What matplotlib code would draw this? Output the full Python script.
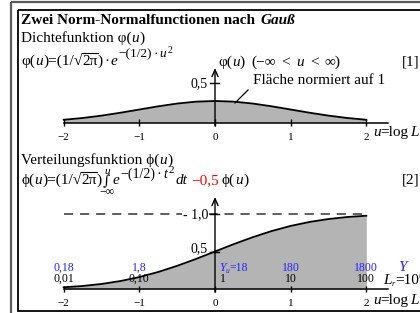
import matplotlib
matplotlib.use("Agg")
import matplotlib.pyplot as plt
from matplotlib.patches import Rectangle
from matplotlib.transforms import blended_transform_factory as blend

plt.rcParams['font.family'] = ['Liberation Serif', 'DejaVu Serif', 'DejaVu Sans']

# ---------------- data ----------------
u_grid = [-2.0, -1.75, -1.5, -1.25, -1.0, -0.75, -0.5, -0.25, 0.0,
          0.25, 0.5, 0.75, 1.0, 1.25, 1.5, 1.75, 2.0]
density = [0.054, 0.086, 0.130, 0.183, 0.242, 0.301, 0.352, 0.387, 0.399,
           0.387, 0.352, 0.301, 0.242, 0.183, 0.130, 0.086, 0.054]
cumulative = [0.023, 0.040, 0.067, 0.106, 0.159, 0.227, 0.309, 0.401, 0.500,
              0.599, 0.691, 0.773, 0.841, 0.894, 0.933, 0.960, 0.977]
u_ticks = [-2, -1, 0, 1, 2]
u_tick_labels = ['\u22122', '\u22121', '0', '1', '2']
L_labels = ['0,01', '0,10', '1', '10', '100']
Y_labels = ['0,18', '1,8', '18', '180', '1800']
upper_level = 1.0

# ---------------- layout ----------------
W, H = 420, 313
fig = plt.figure(figsize=(W / 100, H / 100), dpi=100)
X0, SX = 215.0, 75.67          # pixel of u=0, pixels per unit u
BASE1, S1 = 122.7, 54.4        # upper plot baseline pixel, px per unit
BASE2, S2 = 289.0, 75.0        # lower plot baseline pixel, px per unit
BLUE = '#2323ff'
GREY = '#b4b4b4'
FS = 11


def plot_axes(base, s):
    ax = fig.add_axes([0, 0, 1, 1])
    ax.set_xlim(-X0 / SX, (W - X0) / SX)
    ax.set_ylim(-(H - base) / s, base / s)
    ax.axis('off')
    ax.patch.set_alpha(0)
    return ax


ax1 = plot_axes(BASE1, S1)
ax2 = plot_axes(BASE2, S2)

ax_t = fig.add_axes([0, 0, 1, 1])
ax_t.set_xlim(0, W)
ax_t.set_ylim(H, 0)
ax_t.axis('off')
ax_t.patch.set_alpha(0)

# frame
ax_t.add_patch(Rectangle((10.5, 2), 440, 330, fill=False, ec='#5a5a5a', lw=1.6))
ax_t.add_patch(Rectangle((18, 9.5), 420, 301.5, fill=False, ec='black', lw=1.3))

# ---------------- upper plot ----------------
ax1.fill_between(u_grid, density, 0, color=GREY, lw=0)
ax1.plot(u_grid, density, color='black', lw=1.3)
ax1.plot([-2, (388 - X0) / SX], [0, 0], color='black', lw=1.1)
ax1.vlines(u_ticks, -3.3 / S1, 3.3 / S1, color='black', lw=1.0)
ax1.annotate('', xy=(0, (BASE1 - 68) / S1), xytext=(0, -3.3 / S1),
             arrowprops=dict(arrowstyle='->,head_length=0.5,head_width=0.22',
                             lw=1.0, color='black', shrinkA=0, shrinkB=0))
for u, lab in zip(u_ticks, u_tick_labels):
    ax_t.text(u, 140, lab, transform=blend(ax1.transData, ax_t.transData),
              ha='center', va='baseline', fontsize=8)

# ---------------- lower plot ----------------
ax2.fill_between(u_grid, cumulative, 0, color=GREY, lw=0)
ax2.plot(u_grid, cumulative, color='black', lw=1.3)
ax2.plot([-2, 2], [upper_level, upper_level], color='#333333', lw=1.1,
         dashes=(6, 4.5))
ax2.plot([-2, (388 - X0) / SX], [0, 0], color='black', lw=1.1)
ax2.vlines(u_ticks, -3.3 / S2, 3.3 / S2, color='black', lw=1.0)
ax2.annotate('', xy=(0, (BASE2 - 197) / S2), xytext=(0, -3.3 / S2),
             arrowprops=dict(arrowstyle='->,head_length=0.5,head_width=0.22',
                             lw=1.0, color='black', shrinkA=0, shrinkB=0))
tr2 = blend(ax2.transData, ax_t.transData)
for u, lab in zip(u_ticks, u_tick_labels):
    ax_t.text(u, 306, lab, transform=tr2, ha='center', va='baseline', fontsize=8)
for u, lab, ylab in zip(u_ticks, L_labels, Y_labels):
    if u == 0:
        continue
    ax_t.text(u, 282, lab, transform=tr2, ha='center', va='baseline', fontsize=8.5)
    ax_t.text(u, 271, ylab, transform=tr2, ha='center', va='baseline',
              fontsize=8.5, color=BLUE)

# ---------------- rich text helper ----------------
fig.canvas.draw()
R = fig.canvas.get_renderer()


def rich(x, y, pieces, size=FS):
    boxes = []
    for txt, kw in pieces:
        kw = dict(kw)
        dy = kw.pop('dy', 0)
        dx = kw.pop('dx', 0)
        kw.setdefault('fontsize', size)
        t = ax_t.text(x + dx, y + dy, txt, ha='left', va='baseline', **kw)
        bb = t.get_window_extent(renderer=R)
        boxes.append((x + dx, x + dx + bb.width))
        x += dx + bb.width
    return x, boxes


IT = {'style': 'italic'}

# title
rich(21, 24, [('Zwei Norm-Normalfunctionen nach ', {'weight': 'bold'}),
              ('Gau\u00df', {'weight': 'bold', 'style': 'italic', 'dx': 1.5})], size=11)

# upper heading + formula
rich(21, 42, [('Dichtefunktion \u03c6(', {}), ('u', IT), (')', {'dx': 0.5})])
xe, bx = rich(21, 65, [('\u03c6(', {}), ('u', IT), (')=(1/', {'dx': 0.5}),
                       ('\u221a', {}), ('2\u03c0', {}), (')', {}),
                       ('\u00b7', {'dx': 1.5}), ('e', dict(IT, dx=1.5)),
                       ('\u2212(1/2)', {'fontsize': 9.5, 'dy': -8, 'dx': 1}),
                       ('\u00b7', {'fontsize': 9.5, 'dy': -8, 'dx': 1.5}),
                       ('u', dict(IT, fontsize=9.5, dy=-8, dx=1.5)),
                       ('2', {'fontsize': 7, 'dy': -12, 'dx': 1.5})])
ax_t.plot([bx[4][0], bx[4][1]], [53.3, 53.3], color='black', lw=0.8)

rich(218, 66, [('\u03c6(', {}), ('u', IT), (')', {})])
rich(251, 66, [('(\u2212\u221e', {}), ('<', {'dx': 6}), ('u', dict(IT, dx=6)),
               ('<', {'dx': 6}), ('\u221e)', {'dx': 6})])
ax_t.text(402, 66, '[1]', ha='left', va='baseline', fontsize=FS)
ax_t.text(253, 84, 'Fl\u00e4che normiert auf 1', ha='left', va='baseline', fontsize=FS)
ax_t.plot([235, 248], [103, 90], color='black', lw=0.9)
ax_t.text(208, 87, '0,5', ha='right', va='baseline', fontsize=10)
ax_t.plot([210, 219], [83.3, 83.3], color='black', lw=1.0)
rich(373, 136, [('u', IT), ('=log', {}), ('L', dict(IT, dx=1.5))])

# lower heading + formula
rich(21, 164, [('Verteilungsfunktion \u03d5(', {}), ('u', IT), (')', {'dx': 0.5})])
xe, bx = rich(21, 184, [('\u03d5(', {}), ('u', IT), (')=(1/', {'dx': 0.5}),
                        ('\u221a', {}), ('2\u03c0', {}), (')', {})])
ax_t.plot([bx[4][0], bx[4][1]], [172.3, 172.3], color='black', lw=0.8)
ti = ax_t.text(xe + 1, 185.5, '\u222b', ha='left', va='baseline', fontsize=10,
               family='DejaVu Serif')
iw = ti.get_window_extent(renderer=R).width
ax_t.text(xe + 1 + iw / 2 + 1, 173.5, 'u', ha='center', va='baseline', fontsize=8,
          style='italic')
ax_t.text(xe + 1 + iw / 2, 195, '\u2212\u221e', ha='center', va='baseline', fontsize=8.5)
rich(xe + 2 + iw, 184, [('e', dict(IT, dx=1)),
                        ('\u2212(1/2)', {'fontsize': 10, 'dy': -6, 'dx': 1}),
                        ('\u00b7', {'fontsize': 10, 'dy': -6, 'dx': 2}),
                        ('t', dict(IT, fontsize=10, dy=-6, dx=2)),
                        ('2', {'fontsize': 8, 'dy': -11, 'dx': 1.5}),
                        ('dt', dict(IT, dx=1)),
                        ('\u22120,5', {'color': 'red', 'dx': 4}),
                        ('\u03d5(', {'dx': 3}), ('u', IT), (')', {'dx': 0.5})])
ax_t.text(402, 184, '[2]', ha='left', va='baseline', fontsize=FS)

ax_t.text(208, 218.5, '- 1,0', ha='right', va='baseline', fontsize=10,
          bbox=dict(fc='white', ec='none', pad=0.5))
ax_t.plot([210, 219], [214, 214], color='black', lw=1.0)
ax_t.text(208, 252, '0,5', ha='right', va='baseline', fontsize=10)
ax_t.plot([210, 219], [251.5, 251.5], color='black', lw=1.0)

rich(219, 271, [('Y', dict(IT, color=BLUE, fontsize=8.5)),
                ('u', dict(IT, color=BLUE, fontsize=5.5, dy=2)),
                ('=18', {'color': BLUE, 'fontsize': 8.5})])
ax_t.text(220, 282, '1', ha='left', va='baseline', fontsize=8.5)
ax_t.text(398, 271, 'Y', ha='left', va='baseline', fontsize=11, style='italic', color=BLUE)
rich(383, 284, [('L', IT), ('r', dict(IT, fontsize=6, dy=2)), ('=10', {}),
                ('u', dict(IT, fontsize=7, dy=-6))])
rich(373, 304, [('u', IT), ('=log', {}), ('L', dict(IT, dx=1.5))])

fig.savefig('out.png', dpi=100)
